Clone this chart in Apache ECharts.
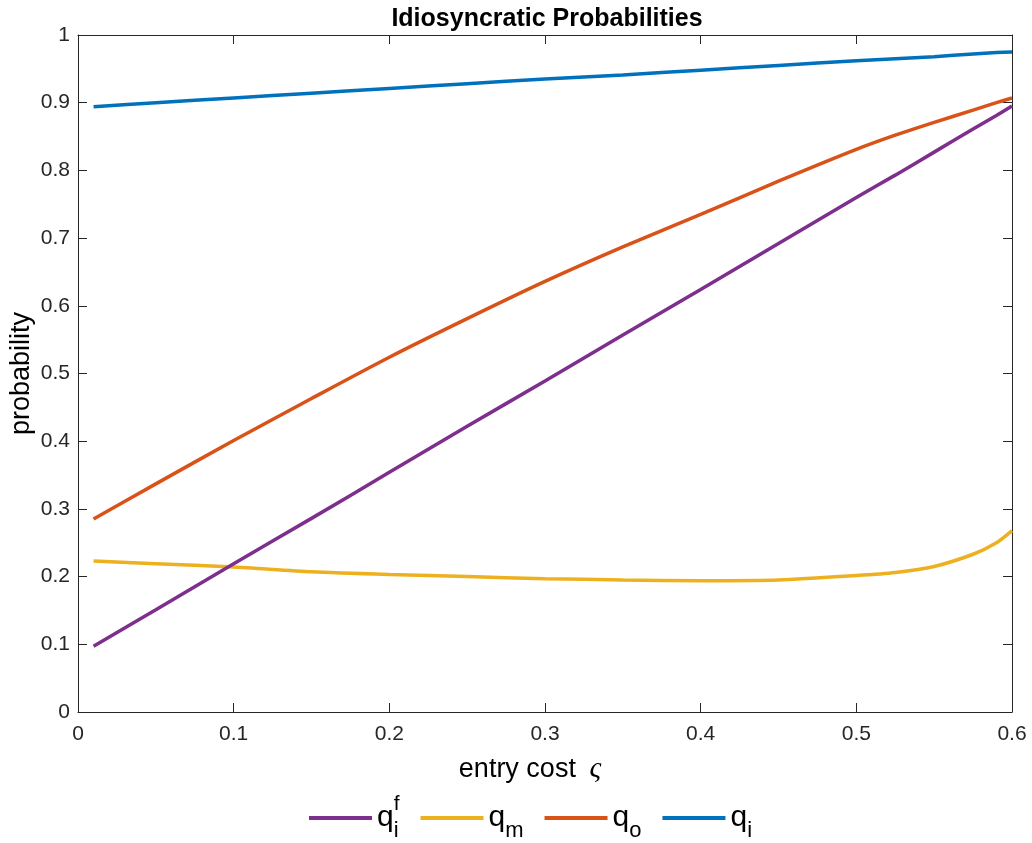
<!DOCTYPE html>
<html>
<head>
<meta charset="utf-8">
<script src="https://cdn.jsdelivr.net/npm/echarts@6/dist/echarts.min.js"></script>
<style>
html,body{margin:0;padding:0;background:#fff;}
#chart{width:1032px;height:843px;}
</style>
</head>
<body>
<div id="chart"></div>
<script>
// entry cost values (x)
const entryCost = [0.01, 0.05, 0.1, 0.15, 0.2, 0.25, 0.3, 0.35, 0.4, 0.45, 0.5, 0.525, 0.55, 0.575, 0.59, 0.6];
// series values
const qif = [0.097, 0.151, 0.219, 0.286, 0.354, 0.422, 0.489, 0.557, 0.624, 0.692, 0.760, 0.793, 0.827, 0.861, 0.881, 0.895];
const qm  = [0.223, 0.219, 0.214, 0.207, 0.203, 0.200, 0.197, 0.195, 0.194, 0.195, 0.2015, 0.206, 0.215, 0.233, 0.250, 0.268];
const qo  = [0.285, 0.337, 0.401, 0.463, 0.524, 0.581, 0.636, 0.687, 0.735, 0.784, 0.831, 0.852, 0.871, 0.889, 0.900, 0.907];
const qi  = [0.894, 0.900, 0.907, 0.914, 0.921, 0.928, 0.935, 0.941, 0.948, 0.955, 0.962, 0.965, 0.968, 0.972, 0.974, 0.975];
const xTicks = [0, 0.1, 0.2, 0.3, 0.4, 0.5, 0.6];
const yTicks = [0, 0.1, 0.2, 0.3, 0.4, 0.5, 0.6, 0.7, 0.8, 0.9, 1];
const seriesNames = ['qif', 'qm', 'qo', 'qi'];
const legendLabels = {
  qif: '{q|q}{sup|f}{sub|i}',
  qm: '{q|q}{sub|m}',
  qo: '{q|q}{sub|o}',
  qi: '{q|q}{sub|i}'
};
const colors = {qif: '#7E2F8E', qm: '#EDB120', qo: '#D95319', qi: '#0072BD'};

const pairs = arr => entryCost.map((x, i) => [x, arr[i]]);
const seriesData = {qif: qif, qm: qm, qo: qo, qi: qi};
const zOrder = {qif: 5, qm: 3, qo: 4, qi: 2};

const axisColor = '#262626';
const FONT = 'Liberation Sans, Arial, Helvetica, sans-serif';

const chart = echarts.init(document.getElementById('chart'), null, {renderer: 'canvas'});

const tickStyleCommon = {show: true, inside: true, length: 9, lineStyle: {color: axisColor, width: 1}};
const tickFmt = v => String(Math.round(v * 10) / 10);

const option = {
  backgroundColor: '#ffffff',
  animation: false,
  title: {
    text: 'Idiosyncratic Probabilities',
    left: 542,
    textAlign: 'center',
    top: 2,
    textStyle: {fontFamily: FONT, fontWeight: 'bold', fontSize: 25, color: '#000'}
  },
  grid: {left: 78, right: 20, top: 35, bottom: 131, containLabel: false, outerBoundsMode: 'none'},
  legend: {
    data: seriesNames,
    left: 304,
    top: 789,
    icon: 'rect',
    itemWidth: 63,
    itemHeight: 4,
    itemGap: 21,
    formatter: name => legendLabels[name],
    textStyle: {
      fontFamily: FONT,
      color: '#000',
      rich: {
        q: {fontFamily: FONT, fontSize: 30, lineHeight: 48, color: '#000', verticalAlign: 'middle'},
        sup: {fontFamily: FONT, fontSize: 21, lineHeight: 22, width: 0.01, color: '#000', verticalAlign: 'top'},
        sub: {fontFamily: FONT, fontSize: 22, lineHeight: 22, color: '#000', verticalAlign: 'bottom'}
      }
    }
  },
  xAxis: [{
    type: 'value',
    min: 0, max: 0.6, interval: 0.1,
    position: 'bottom',
    name: '{t|entry cost }{s|ς}',
    nameLocation: 'middle',
    nameGap: 43,
    nameMoveOverlap: false,
    nameTextStyle: {
      padding: [0, 30, 0, 0],
      rich: {
        t: {fontFamily: FONT, fontSize: 27, color: '#000'},
        s: {fontFamily: 'Liberation Serif, DejaVu Serif, serif', fontStyle: 'italic', fontSize: 29, color: '#000', padding: [0, 0, 0, 6]}
      }
    },
    axisLine: {show: true, onZero: false, lineStyle: {color: axisColor, width: 1}},
    axisTick: tickStyleCommon,
    axisLabel: {show: true, margin: 12, fontFamily: FONT, fontSize: 21, color: '#262626', formatter: tickFmt},
    splitLine: {show: false}
  }, {
    type: 'value',
    min: 0, max: 0.6, interval: 0.1,
    position: 'top',
    axisLine: {show: true, onZero: false, lineStyle: {color: axisColor, width: 1}},
    axisTick: tickStyleCommon,
    axisLabel: {show: false},
    splitLine: {show: false}
  }],
  yAxis: [{
    type: 'value',
    min: 0, max: 1, interval: 0.1,
    position: 'left',
    name: 'probability',
    nameLocation: 'middle',
    nameGap: 43,
    nameMoveOverlap: false,
    nameTextStyle: {fontFamily: FONT, fontSize: 27, color: '#000'},
    axisLine: {show: true, onZero: false, lineStyle: {color: axisColor, width: 1}},
    axisTick: tickStyleCommon,
    axisLabel: {show: true, margin: 8, fontFamily: FONT, fontSize: 21, color: '#262626', formatter: tickFmt},
    splitLine: {show: false}
  }, {
    type: 'value',
    min: 0, max: 1, interval: 0.1,
    position: 'right',
    axisLine: {show: true, onZero: false, lineStyle: {color: axisColor, width: 1}},
    axisTick: tickStyleCommon,
    axisLabel: {show: false},
    splitLine: {show: false}
  }],
  series: seriesNames.map(n => ({
    name: n,
    type: 'line',
    xAxisIndex: 0,
    yAxisIndex: 0,
    data: pairs(seriesData[n]),
    smooth: 0.25,
    showSymbol: false,
    symbol: 'none',
    z: zOrder[n],
    color: colors[n],
    lineStyle: {color: colors[n], width: 3.5},
    itemStyle: {color: colors[n]}
  }))
};
chart.setOption(option);
</script>
</body>
</html>
